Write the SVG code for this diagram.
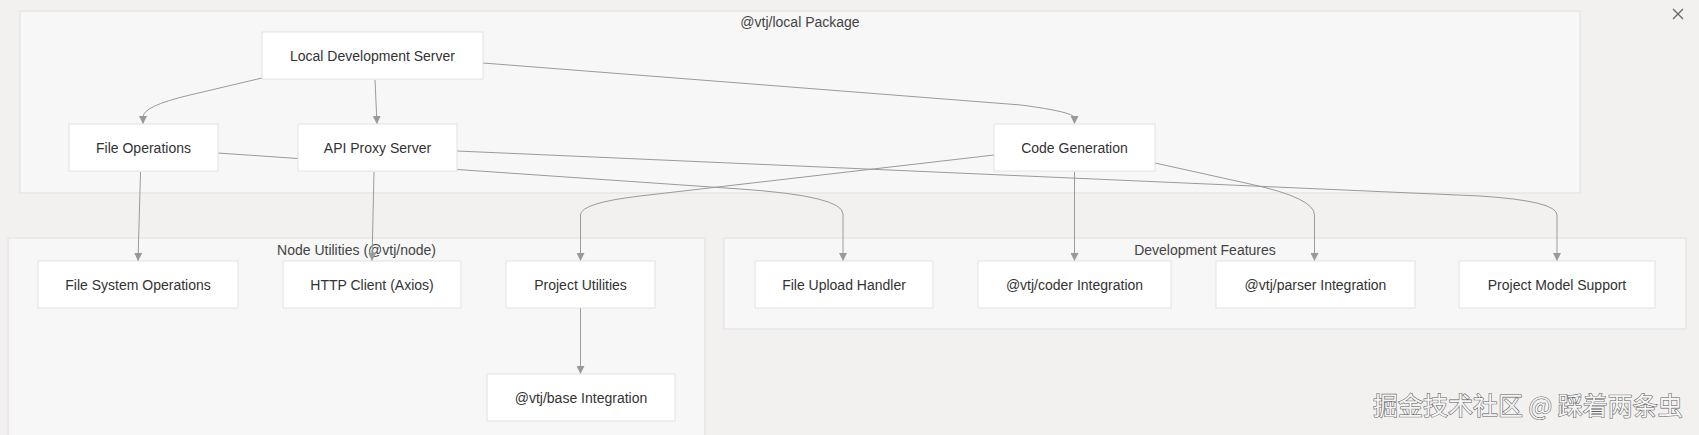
<svg xmlns="http://www.w3.org/2000/svg" width="1699" height="435" viewBox="0 0 1699 435">
<defs>
<style>
.bg{fill:#f2f1f0}
.cluster rect{fill:#f7f7f7;stroke:#e6e6e6;stroke-width:1.5}
.cluster text{font-family:"Liberation Sans",Arial,sans-serif;font-size:14px;fill:#444;text-anchor:middle}
.node rect{fill:#ffffff;stroke:#e2e2e2;stroke-width:1}
.node text{font-family:"Liberation Sans",Arial,sans-serif;font-size:14px;fill:#333;text-anchor:middle}
.edge{fill:none;stroke:#9a9a9a;stroke-width:1;marker-end:url(#arr)}
.wm{font-family:"Noto Sans CJK SC","Noto Sans",sans-serif;font-size:25px;fill:#f4f4f4;stroke:#5e5e5e;stroke-width:1.1;paint-order:stroke}
</style>
<marker id="arr" viewBox="0 0 10 10" refX="10" refY="5" markerWidth="8" markerHeight="8" markerUnits="userSpaceOnUse" orient="auto">
<path d="M0,0 L10,5 L0,10 z" fill="#999"/>
</marker>
</defs>
<rect class="bg" x="0" y="0" width="1699" height="435"/>

<g id="cluster-local" class="cluster">
<rect x="20" y="11" width="1560" height="182"/>
<text x="800" y="26.5">@vtj/local Package</text>
</g>
<g id="cluster-node" class="cluster">
<rect x="8" y="238" width="697" height="210"/>
<text x="356.5" y="254.5">Node Utilities (@vtj/node)</text>
</g>
<g id="cluster-dev" class="cluster">
<rect x="724" y="238" width="962" height="91"/>
<text x="1205" y="254.5">Development Features</text>
</g>

<g id="connectors">
<path class="edge" d="M262,78 L190,95 Q143,106 143,117 L143,124"/>
<path class="edge" d="M375,80 L377,124"/>
<path class="edge" d="M483,63 L1021,105 Q1074.5,112 1074.5,118 L1074.5,124"/>
<path class="edge" d="M140.5,172 L138,261"/>
<path class="edge" d="M374,172 L372,261"/>
<path class="edge" d="M218,153 L740,189 Q843,196 843,214 L843,261"/>
<path class="edge" d="M457,151 L1480,196 Q1557,201 1557,215 L1557,261"/>
<path class="edge" d="M994,155 L640,196 Q580.5,203 580.5,215 L580.5,261"/>
<path class="edge" d="M1074.5,172 L1074.5,261"/>
<path class="edge" d="M1155,163 L1250,184 Q1314.5,198 1314.5,215 L1314.5,261"/>
<path class="edge" d="M580.5,308 L580.5,374"/>
</g>

<g id="n-lds" class="node"><rect x="262" y="32" width="221" height="47"/><text x="372.5" y="60.5">Local Development Server</text></g>
<g id="n-fileops" class="node"><rect x="69" y="124" width="149" height="47"/><text x="143.5" y="152.5">File Operations</text></g>
<g id="n-api" class="node"><rect x="298" y="124" width="159" height="47"/><text x="377.5" y="152.5">API Proxy Server</text></g>
<g id="n-codegen" class="node"><rect x="994" y="124" width="161" height="47"/><text x="1074.5" y="152.5">Code Generation</text></g>

<g id="n-fs" class="node"><rect x="38" y="261" width="200" height="47"/><text x="138" y="289.5">File System Operations</text></g>
<g id="n-http" class="node"><rect x="283" y="261" width="178" height="47"/><text x="372" y="289.5">HTTP Client (Axios)</text></g>
<g id="n-projutil" class="node"><rect x="506" y="261" width="149" height="47"/><text x="580.5" y="289.5">Project Utilities</text></g>
<g id="n-base" class="node"><rect x="487" y="374" width="188" height="47"/><text x="581" y="402.5">@vtj/base Integration</text></g>

<g id="n-upload" class="node"><rect x="755" y="261" width="178" height="47"/><text x="844" y="289.5">File Upload Handler</text></g>
<g id="n-coder" class="node"><rect x="978" y="261" width="193" height="47"/><text x="1074.5" y="289.5">@vtj/coder Integration</text></g>
<g id="n-parser" class="node"><rect x="1216" y="261" width="199" height="47"/><text x="1315.5" y="289.5">@vtj/parser Integration</text></g>
<g id="n-model" class="node"><rect x="1459" y="261" width="196" height="47"/><text x="1557" y="289.5">Project Model Support</text></g>

<g id="close-icon" stroke="#666" stroke-width="1.2">
<line x1="1673" y1="9" x2="1683" y2="19"/>
<line x1="1683" y1="9" x2="1673" y2="19"/>
</g>

<text class="wm" x="1373" y="415">掘金技术社区 @ 踩着两条虫</text>
</svg>
